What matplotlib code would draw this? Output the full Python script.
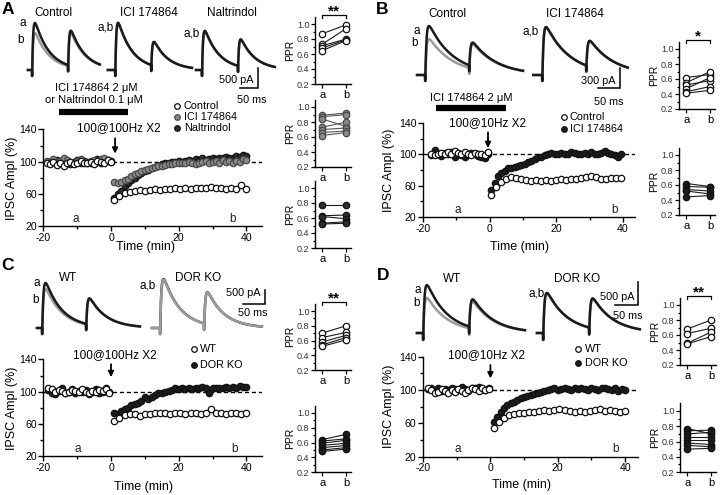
import numpy as np
import matplotlib.pyplot as plt
from matplotlib.lines import Line2D
from matplotlib.ticker import FixedLocator, FormatStrFormatter

plt.rcParams['font.family'] = ['Liberation Sans', 'DejaVu Sans']
plt.rcParams['axes.unicode_minus'] = False
plt.rcParams['axes.linewidth'] = 1.0

W, H = 720, 495

# ---------------- time course data (% of baseline IPSC) ----------------
# panel A
tA_base = np.arange(-19, 1, 1)
tA_open = np.arange(1, 40.1, 1.5)
tA_fill = np.arange(1, 41, 1)
A_ctrl_base = [99, 97, 100, 96, 98, 95, 98, 100, 97, 99, 101, 98, 99, 100, 97, 101, 100, 99, 102, 100]
A_ici_base = [101, 100, 103, 99, 101, 104, 102, 100, 99, 101, 103, 100, 98, 101, 102, 100, 103, 105, 101, 100]
A_nal_base = [100, 98, 101, 102, 99, 100, 101, 97, 100, 102, 99, 101, 100, 98, 101, 103, 99, 100, 102, 101]
A_ctrl_post = [53, 58, 61, 63, 64, 65, 64, 65, 66, 65, 66, 66, 67, 66, 67, 66, 67, 68, 67, 69,
               68, 67, 66, 68, 66, 71, 66]
A_ici_post = [75, 74, 75, 77, 79, 82, 85, 86, 88, 90, 91, 92, 94, 95, 95, 96, 97, 97, 98, 99,
              98, 99, 100, 99, 97, 99, 100, 101, 98, 100, 101, 99, 102, 100, 101, 99, 101, 100, 103, 102]
A_nal_post = [55, 60, 64, 70, 74, 77, 80, 84, 86, 88, 90, 92, 93, 95, 97, 98, 99, 100, 100, 101,
              100, 101, 102, 101, 103, 102, 104, 102, 103, 104, 103, 105, 104, 106, 104, 105, 107, 106, 108, 107]

# panel B
tB_base = np.arange(-17.5, 0, 1)
tB_open = np.arange(0.5, 40, 1.5)
tB_fill = np.arange(0.5, 40, 1)
B_ctrl_base = [100, 99, 101, 102, 100, 103, 101, 104, 102, 100, 103, 101, 99, 102, 100, 101, 99, 103]
B_ici_base = [99, 106, 101, 98, 102, 100, 103, 97, 101, 99, 96, 100, 102, 101, 98, 96, 95, 100]
B_ctrl_post = [48, 58, 65, 69, 71, 70, 68, 67, 66, 67, 66, 67, 66, 67, 68, 67, 68, 69, 70, 71,
               72, 71, 68, 69, 70, 70, 70]
B_ici_post = [55, 63, 72, 76, 79, 82, 83, 84, 85, 86, 88, 90, 92, 94, 96, 97, 99, 101, 102, 100,
              101, 102, 100, 101, 103, 102, 100, 101, 102, 101, 103, 101, 100, 102, 104, 102, 101, 99, 97, 100]

# panel C
tC_base = np.arange(-18.5, 0, 1)
tC_open = np.arange(1, 40.1, 1.5)
tC_fill = np.arange(1, 41, 1)
C_wt_base = [104, 103, 100, 102, 101, 99, 100, 102, 101, 100, 103, 100, 99, 101, 100, 102, 101, 103, 99]
C_ko_base = [102, 99, 97, 101, 104, 98, 100, 103, 99, 101, 100, 102, 97, 100, 103, 98, 100, 104, 100]
C_wt_post = [64, 68, 71, 73, 72, 70, 72, 73, 74, 74, 74, 73, 74, 74, 73, 74, 74, 73, 74, 78,
             74, 74, 73, 74, 74, 73, 74]
C_ko_post = [74, 73, 76, 78, 80, 83, 85, 86, 89, 93, 91, 94, 96, 98, 99, 100, 101, 102, 104, 103,
             104, 103, 104, 103, 104, 105, 106, 104, 98, 104, 105, 104, 105, 106, 105, 106, 105, 107, 106, 106]

# panel D
tD_base = np.arange(-18.5, 0, 1)
tD_open = np.arange(1, 40.1, 1.5)
tD_fill = np.arange(1, 41, 1)
D_wt_base = [103, 100, 96, 98, 101, 99, 97, 100, 98, 101, 99, 97, 100, 102, 101, 99, 102, 100, 101]
D_ko_base = [101, 102, 100, 103, 99, 101, 100, 102, 101, 100, 104, 101, 99, 103, 102, 104, 101, 100, 103]
D_wt_post = [54, 62, 67, 70, 71, 72, 73, 74, 74, 75, 76, 75, 76, 77, 76, 75, 74, 75, 74, 75,
             76, 77, 75, 76, 75, 74, 75]
D_ko_post = [62, 68, 74, 79, 82, 84, 86, 88, 90, 92, 93, 94, 95, 97, 98, 99, 100, 101, 102, 100,
             101, 102, 101, 100, 102, 101, 103, 101, 100, 102, 101, 100, 103, 102, 101, 100, 102, 99, 101, 100]

SEM = 3

# ---------------- paired-pulse ratios (a = baseline, b = after) ----------------
ppr_A_ctrl = ([0.87, 0.73, 0.71, 0.68, 0.645], [0.99, 0.94, 0.80, 0.79, 0.78])
ppr_A_ici = ([0.89, 0.87, 0.84, 0.73, 0.70, 0.66, 0.62], [0.92, 0.90, 0.74, 0.80, 0.72, 0.68, 0.66])
ppr_A_nal = ([0.77, 0.63, 0.62, 0.53, 0.52], [0.77, 0.64, 0.59, 0.55, 0.53])
ppr_B_ctrl = ([0.62, 0.55, 0.52, 0.47, 0.43, 0.41], [0.66, 0.70, 0.58, 0.62, 0.50, 0.45])
ppr_B_ici = ([0.62, 0.58, 0.54, 0.52, 0.44], [0.58, 0.57, 0.52, 0.48, 0.46])
ppr_C_wt = ([0.70, 0.64, 0.58, 0.54, 0.52], [0.80, 0.71, 0.67, 0.64, 0.61])
ppr_C_ko = ([0.64, 0.62, 0.59, 0.56, 0.53, 0.50, 0.48], [0.71, 0.65, 0.63, 0.59, 0.56, 0.53, 0.51])
ppr_D_wt = ([0.68, 0.62, 0.49, 0.48], [0.80, 0.69, 0.64, 0.58])
ppr_D_ko = ([0.77, 0.74, 0.70, 0.66, 0.62, 0.58, 0.55, 0.50], [0.70, 0.75, 0.72, 0.66, 0.62, 0.56, 0.53, 0.51])

# ---------------- example IPSC amplitudes (pA): (1st, 2nd) for sweeps a and b ----------------
trA_ctrl = {'a': (1175, 880), 'b': (925, 840)}
trA_ici = {'a': (1180, 600), 'b': (1160, 590)}
trA_nal = {'a': (980, 680), 'b': (960, 670)}
trB_ctrl = {'a': (735, 360), 'b': (540, 370)}
trB_ici = {'a': (720, 390), 'b': (710, 385)}
trC_wt = {'a': (1620, 940), 'b': (1400, 950)}
trC_ko = {'a': (1760, 1150), 'b': (1740, 1140)}
trD_wt = {'a': (1040, 610), 'b': (760, 590)}
trD_ko = {'a': (870, 650), 'b': (860, 640)}

BLK = '#1a1a1a'
GRY = '#9b9b9b'

fig = plt.figure(figsize=(7.2, 4.95), dpi=100)


def rect(x0, y0, x1, y1):
    return [x0 / W, 1 - y1 / H, (x1 - x0) / W, (y1 - y0) / H]


def ftext(x, y, s, **kw):
    kw.setdefault('ha', 'center')
    kw.setdefault('va', 'center')
    fig.text(x / W, 1 - y / H, s, **kw)


def fmark(x, y, **kw):
    fig.add_artist(Line2D([x / W], [1 - y / H], transform=fig.transFigure, **kw))


# ---------------- main time-course axes ----------------
def main_axes(r, xmax):
    ax = fig.add_axes(rect(*r))
    ax.set_xlim(-20, xmax)
    ax.set_ylim(20, 140)
    for s in ('top', 'right'):
        ax.spines[s].set_visible(False)
    ax.xaxis.set_major_locator(FixedLocator([-20, 0, 20, 40]))
    ax.xaxis.set_minor_locator(FixedLocator([-10, 10, 30]))
    ax.yaxis.set_major_locator(FixedLocator([20, 60, 100, 140]))
    ax.yaxis.set_minor_locator(FixedLocator([40, 80, 120]))
    ax.tick_params(which='major', length=3.5, width=1, labelsize=7.6, pad=1.2)
    ax.tick_params(which='minor', length=2.2, width=1)
    ax.axhline(100, ls=(0, (3, 2)), color='k', lw=1, zorder=1)
    return ax


def series(ax, t, y, face, edge, z=3):
    ax.errorbar(t, y, yerr=SEM, fmt='o', ms=4.6, mfc=face, mec=edge, mew=0.9,
                ecolor=edge, elinewidth=0.7, capsize=0, zorder=z)


def arrow(ax, x, y0, y1):
    ax.annotate('', xy=(x, y1), xytext=(x, y0), annotation_clip=False,
                arrowprops=dict(arrowstyle='-|>', color='k', lw=1.3,
                                mutation_scale=8, shrinkA=0, shrinkB=0))


OPEN = ('white', '#111111')
FILL = ('#1c1c1c', '#111111')
ICIG = ('#8a8a8a', '#4a4a4a')
NALD = ('#2e2e2e', '#111111')

axA = main_axes((43.3, 129.4, 262, 226.3), 44.6)
series(axA, tA_base, A_nal_base, *NALD)
series(axA, tA_fill, A_nal_post, *NALD)
series(axA, tA_base, A_ici_base, *ICIG)
series(axA, tA_fill, A_ici_post, *ICIG)
series(axA, tA_base, A_ctrl_base, *OPEN, z=4)
series(axA, tA_open, A_ctrl_post, *OPEN, z=4)
axA.text(2.2, 141.7, '100@100Hz X2', fontsize=8.5, ha='center', va='center')
arrow(axA, 1.2, 129, 110)
axA.plot([-15.5, 5], [161.5, 161.5], color='k', lw=4.5, solid_capstyle='butt', clip_on=False)

axB = main_axes((423, 122.9, 635, 217.1), 43.6)
series(axB, tB_base, B_ici_base, *FILL)
series(axB, tB_fill, B_ici_post, *FILL)
series(axB, tB_base, B_ctrl_base, *OPEN, z=4)
series(axB, tB_open, B_ctrl_post, *OPEN, z=4)
axB.text(-0.5, 140, '100@10Hz X2', fontsize=8.5, ha='center', va='center')
arrow(axB, -0.5, 128, 108)
axB.plot([-16, 5], [159, 159], color='k', lw=4.5, solid_capstyle='butt', clip_on=False)

axC = main_axes((43.3, 359.4, 262, 456.3), 44.6)
series(axC, tC_base, C_ko_base, *FILL)
series(axC, tC_fill, C_ko_post, *FILL)
series(axC, tC_base, C_wt_base, *OPEN, z=4)
series(axC, tC_open, C_wt_post, *OPEN, z=4)
axC.text(1.2, 145.5, '100@100Hz X2', fontsize=8.5, ha='center', va='center')
arrow(axC, 0, 134, 118)

axD = main_axes((423, 356.7, 638, 456.7), 43.8)
series(axD, tD_base, D_ko_base, *FILL)
series(axD, tD_fill, D_ko_post, *FILL)
series(axD, tD_base, D_wt_base, *OPEN, z=4)
series(axD, tD_open, D_wt_post, *OPEN, z=4)
axD.text(-1.3, 142, '100@10Hz X2', fontsize=8.5, ha='center', va='center')
arrow(axD, 0, 130, 114)

for ax, xa, xb in ((axA, -10.3, 36), (axB, -9.6, 37.6), (axC, -9.7, 36.5), (axD, -9.6, 37)):
    ax.text(xa, 29, 'a', fontsize=8.5, ha='center', va='center', color='#222')
    ax.text(xb, 29, 'b', fontsize=8.5, ha='center', va='center', color='#222')

for x, y in ((145, 247), (520, 247), (144, 487), (522, 485)):
    ftext(x, y, 'Time (min)', fontsize=9)
for x, y in ((12, 178), (389, 170), (12, 408), (389, 406)):
    ftext(x, y, 'IPSC Ampl (%)', fontsize=9, rotation=90)

# drug labels
ftext(96, 88, 'ICI 174864 2 μM', fontsize=8)
ftext(94, 100, 'or Naltrindol 0.1 μM', fontsize=8)
ftext(471, 98, 'ICI 174864 2 μM', fontsize=8)

# legends
def legend_item(x, y, label, face, edge, tx):
    fmark(x, y, marker='o', ms=4, mfc=face, mec=edge, mew=0.9, ls='none')
    ftext(tx, y, label, fontsize=7.8, ha='left')

legend_item(177, 106, 'Control', *OPEN, tx=184)
legend_item(177, 117, 'ICI 174864', *ICIG, tx=184)
legend_item(177, 128, 'Naltrindol', *NALD, tx=184)
legend_item(564, 117, 'Control', *OPEN, tx=570)
legend_item(564, 129, 'ICI 174864', *FILL, tx=570)
legend_item(194, 349, 'WT', *OPEN, tx=200)
legend_item(194, 365, 'DOR KO', *FILL, tx=200)
legend_item(578, 349, 'WT', *OPEN, tx=585)
legend_item(578, 363, 'DOR KO', *FILL, tx=585)


# ---------------- PPR axes ----------------
def ppr_axes(x0, y10, y02, data, face, edge, line, stars=None):
    top = y10 - (y02 - y10) / 8.0
    ax = fig.add_axes(rect(x0, top, x0 + 36, y02))
    for ya, yb in zip(*data):
        ax.plot([0, 1], [ya, yb], color=line, lw=0.8, marker='o', ms=4.6,
                mfc=face, mec=edge, mew=0.9, clip_on=False)
    ax.set_xlim(-0.3, 1.2)
    ax.set_ylim(0.2, 1.1)
    for s in ('top', 'right'):
        ax.spines[s].set_visible(False)
    ax.set_xticks([0, 1])
    ax.set_xticklabels(['a', 'b'])
    ax.yaxis.set_major_locator(FixedLocator([0.2, 0.4, 0.6, 0.8, 1.0]))
    ax.yaxis.set_minor_locator(FixedLocator([0.3, 0.5, 0.7, 0.9]))
    ax.yaxis.set_major_formatter(FormatStrFormatter('%.1f'))
    ax.tick_params(axis='y', which='major', length=3, width=0.9, labelsize=6.5, pad=1, labelcolor='#333')
    ax.tick_params(axis='y', which='minor', length=1.8, width=0.9)
    ax.tick_params(axis='x', length=3, width=0.9, labelsize=8, pad=1.5)
    ax.set_ylabel('PPR', fontsize=7.5, labelpad=1.5)
    if stars:
        ax.plot([0, 0, 1, 1], [1.08, 1.12, 1.12, 1.08], color='k', lw=0.9, clip_on=False)
        ax.text(0.5, 1.115, stars, fontsize=11, fontweight='bold', ha='center', va='baseline')
    return ax


ppr_axes(315, 24, 84, ppr_A_ctrl, *OPEN, BLK, '**')
ppr_axes(315, 107, 167, ppr_A_ici, *ICIG, '#555555')
ppr_axes(315, 188, 248, ppr_A_nal, *NALD, BLK)
ppr_axes(679, 49, 109, ppr_B_ctrl, *OPEN, BLK, '*')
ppr_axes(679, 155, 215, ppr_B_ici, *FILL, BLK)
ppr_axes(315, 311, 370, ppr_C_wt, *OPEN, BLK, '**')
ppr_axes(315, 413, 472, ppr_C_ko, *FILL, BLK)
ppr_axes(680, 305, 365, ppr_D_wt, *OPEN, BLK, '**')
ppr_axes(680, 411, 472, ppr_D_ko, *FILL, BLK)


# ---------------- example traces ----------------
def pp_wave(t, stim, amps, td, art, isi=100.0, tr=2.5):
    y = np.zeros_like(t)
    tp = tr * td / (td - tr) * np.log(td / tr)
    norm = np.exp(-tp / td) - np.exp(-tp / tr)
    for s, amp in ((stim, amps[0]), (stim + isi, amps[1])):
        d = t - s - 1.0
        m = d > 0
        y[m] += amp * (np.exp(-d[m] / td) - np.exp(-d[m] / tr)) / norm
        y[(t >= s) & (t < s + 0.8)] -= art
    return y


def trace_axes(r, xlim, ylim):
    ax = fig.add_axes(rect(*r))
    ax.set_xlim(*xlim)
    ax.set_ylim(*ylim)
    ax.axis('off')
    return ax


def draw_pair(ax, amps, start, stim, end, td, art, grey_top=False):
    t = np.arange(start, end, 0.2)
    za, zb = (2, 3) if grey_top else (3, 2)
    ax.plot(t, pp_wave(t, stim, amps['b'], td, art), color=GRY, lw=1.8, zorder=zb)
    ax.plot(t, pp_wave(t, stim, amps['a'], td, art), color=BLK, lw=1.8, zorder=za)


def scale_bar(ax, x, y, dy, dx=50):
    ax.plot([x - dx, x, x], [y, y, y + dy], color='k', lw=1.1, solid_joinstyle='miter')


tA = trace_axes((20, 15, 282, 105), (0, 727.8), (-875, 1375))
draw_pair(tA, trA_ctrl, 22, 33, 222, 40, 150)
draw_pair(tA, trA_ici, 244, 264, 478, 40, 150)
draw_pair(tA, trA_nal, 489, 505, 708, 40, 150)
scale_bar(tA, 661, -450, 500)

tB = trace_axes((410, 20, 645, 110), (0, 534), (-525, 825))
draw_pair(tB, trB_ctrl, 16, 34, 257, 55, 90)
draw_pair(tB, trB_ici, 280, 300, 495, 55, 90)
scale_bar(tB, 477, -195, 300)

tC = trace_axes((30, 268, 280, 340), (0, 568), (-432, 2160))
draw_pair(tC, trC_wt, 16, 27, 250, 38, 220)
draw_pair(tC, trC_ko, 277, 295, 527, 38, 220, grey_top=True)
scale_bar(tC, 534, 864, 500)

tD = trace_axes((410, 268, 645, 345), (0, 511), (-260, 1410))
draw_pair(tD, trD_wt, 15, 28, 250, 45, 150)
draw_pair(tD, trD_ko, 276, 289, 500, 45, 150)
scale_bar(tD, 496, 608, 500)

# trace titles, sweep labels and scale text
for x, y, s in ((53, 13, 'Control'), (149, 13, 'ICI 174864'), (232, 13, 'Naltrindol'),
                (447, 14, 'Control'), (575, 14, 'ICI 174864'),
                (68, 278, 'WT'), (198, 278, 'DOR KO'),
                (452, 279, 'WT'), (577, 279, 'DOR KO')):
    ftext(x, y, s, fontsize=8.5)

for x, y, s in ((23, 23, 'a'), (21, 40, 'b'), (106, 28, 'a,b'), (192, 33, 'a,b'),
                (417, 31, 'a'), (415, 43, 'b'), (531, 32, 'a,b'),
                (37, 283, 'a'), (36, 300, 'b'), (148, 285, 'a,b'),
                (418, 290, 'a'), (417, 303, 'b'), (537, 293, 'a,b')):
    ftext(x, y, s, fontsize=8.5)

for x, y, s in ((236, 80, '500 pA'), (252, 100, '50 ms'),
                (598, 81, '300 pA'), (609, 102, '50 ms'),
                (243, 293, '500 pA'), (253, 313, '50 ms'),
                (617, 297, '500 pA'), (628, 316, '50 ms')):
    ftext(x, y, s, fontsize=7.8)

for x, y, s in ((8, 10, 'A'), (382, 10, 'B'), (7, 265, 'C'), (383, 275, 'D')):
    ftext(x, y, s, fontsize=12.5, fontweight='bold')

fig.savefig('out.png', dpi=100)
